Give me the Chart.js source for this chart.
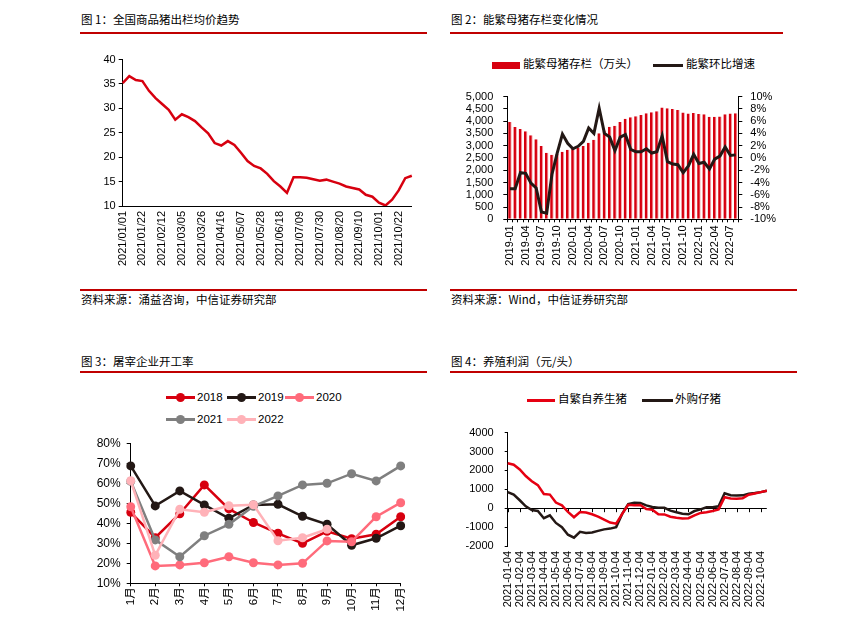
<!DOCTYPE html>
<html>
<head>
<meta charset="utf-8">
<script src="https://cdn.jsdelivr.net/npm/chart.js@4.4.0/dist/chart.umd.min.js"></script>
<style>
  body { margin: 0; background: #fff; width: 849px; height: 622px; position: relative; overflow: hidden;
         font-family: "Liberation Sans", Arial, "Noto Sans CJK SC", sans-serif; }
  .txt { position: absolute; white-space: nowrap; line-height: 1; color: #000; font-family: "Noto Sans CJK SC", sans-serif; font-size: 11.5px; }
  .rule { position: absolute; height: 2px; background: #c00000; }
  .box { position: absolute; }
  .lg { position: absolute; white-space: nowrap; line-height: 1; color: #000; font-size: 11.5px;
        font-family: "Liberation Sans", Arial, "Noto Sans CJK SC", sans-serif; }
  .mk { position: absolute; }
</style>
</head>
<body>

<!-- headers and sources -->
<div class="txt" style="left:81px;top:14px">图 1：全国商品猪出栏均价趋势</div>
<div class="rule" style="left:80px;top:32px;width:347px"></div>
<div class="txt" style="left:451px;top:14px">图 2：能繁母猪存栏变化情况</div>
<div class="rule" style="left:450px;top:32px;width:333px"></div>

<div class="rule" style="left:80px;top:289px;width:347px"></div>
<div class="txt" style="left:81px;top:294px">资料来源：涌益咨询，中信证券研究部</div>
<div class="rule" style="left:450px;top:289px;width:347px"></div>
<div class="txt" style="left:451px;top:294px">资料来源：Wind，中信证券研究部</div>

<div class="txt" style="left:81px;top:356px">图 3：屠宰企业开工率</div>
<div class="rule" style="left:80px;top:371px;width:347px"></div>
<div class="txt" style="left:451px;top:356px">图 4：养殖利润（元/头）</div>
<div class="rule" style="left:450px;top:371px;width:347px"></div>

<!-- legends -->
<div class="mk" style="left:492px;top:62px;width:28px;height:7px;background:#d7000f"></div>
<div class="lg" style="left:523px;top:59px">能繁母猪存栏（万头）</div>
<div class="mk" style="left:653px;top:64px;width:30px;height:3px;background:#231815"></div>
<div class="lg" style="left:686px;top:59px">能繁环比增速</div>

<div id="lg3"></div>

<div class="mk" style="left:527px;top:399px;width:28px;height:3px;background:#e60012"></div>
<div class="lg" style="left:558px;top:394px">自繁自养生猪</div>
<div class="mk" style="left:642px;top:399px;width:31px;height:3px;background:#231815"></div>
<div class="lg" style="left:675px;top:394px">外购仔猪</div>

<!-- charts -->
<div class="box" style="left:80px;top:50px;width:350px;height:230px"><canvas id="c1" width="350" height="230"></canvas></div>
<div class="box" style="left:450px;top:80px;width:335px;height:200px"><canvas id="c2" width="335" height="200"></canvas></div>
<div class="box" style="left:80px;top:430px;width:340px;height:190px"><canvas id="c3" width="340" height="190"></canvas></div>
<div class="box" style="left:440px;top:415px;width:345px;height:205px"><canvas id="c4" width="345" height="205"></canvas></div>

<script>
// ---- chart 1: weekly average price (元/kg)
const priceDates = [
  '2021/01/01','2021/01/08','2021/01/15','2021/01/22','2021/01/29','2021/02/05','2021/02/12','2021/02/19','2021/02/26',
  '2021/03/05','2021/03/12','2021/03/19','2021/03/26','2021/04/02','2021/04/09','2021/04/16','2021/04/23','2021/04/30',
  '2021/05/07','2021/05/14','2021/05/21','2021/05/28','2021/06/04','2021/06/11','2021/06/18','2021/06/25','2021/07/02',
  '2021/07/09','2021/07/16','2021/07/23','2021/07/30','2021/08/06','2021/08/13','2021/08/20','2021/08/27','2021/09/03',
  '2021/09/10','2021/09/17','2021/09/24','2021/10/01','2021/10/08','2021/10/15','2021/10/22','2021/10/29','2021/11/05'
];
const priceValues = [
  35.2, 36.6, 35.8, 35.6, 33.6, 32.1, 30.9, 29.7, 27.7,
  28.8, 28.2, 27.4, 26.1, 24.9, 22.9, 22.4, 23.3, 22.5,
  20.9, 19.2, 18.2, 17.7, 16.6, 15.1, 14.0, 12.7, 15.9,
  15.9, 15.8, 15.5, 15.2, 15.4, 15.0, 14.6, 14.0, 13.7,
  13.4, 12.3, 11.9, 10.7, 10.1, 11.3, 13.2, 15.7, 16.2
];

// ---- chart 2: sow inventory (万头) and MoM change (%)
const sowMonths = [
  '2019-01','2019-02','2019-03','2019-04','2019-05','2019-06','2019-07','2019-08','2019-09','2019-10','2019-11','2019-12',
  '2020-01','2020-02','2020-03','2020-04','2020-05','2020-06','2020-07','2020-08','2020-09','2020-10','2020-11','2020-12',
  '2021-01','2021-02','2021-03','2021-04','2021-05','2021-06','2021-07','2021-08','2021-09','2021-10','2021-11','2021-12',
  '2022-01','2022-02','2022-03','2022-04','2022-05','2022-06','2022-07','2022-08'
];
const sowStock = [
  3970, 3760, 3680, 3590, 3430, 3260, 2990, 2710, 2630, 2660, 2750, 2830,
  2870, 2930, 2990, 3120, 3240, 3510, 3620, 3770, 3810, 3960, 4100, 4160,
  4200, 4255, 4320, 4360, 4400, 4560, 4530, 4490, 4450, 4350, 4310, 4330,
  4295, 4280, 4180, 4180, 4190, 4280, 4310, 4320
];
const sowChange = [
  -5.0, -5.0, -2.4, -2.5, -4.1, -4.9, -8.8, -9.0, -2.7, 0.8, 3.9, 2.4,
  1.5, 1.9, 2.7, 4.9, 4.0, 8.1, 4.0, 3.4, 1.2, 3.4, 3.8, 1.4,
  1.0, 1.0, 1.5, 0.8, 1.0, 3.6, -0.6, -1.0, -1.1, -2.4, -1.3, 0.6,
  -0.9, -0.7, -1.8, -0.2, 0.3, 1.8, 0.4, 0.5
];

// ---- chart 3: slaughter plant operating rate (%)
const rateMonths = ['1月','2月','3月','4月','5月','6月','7月','8月','9月','10月','11月','12月'];
const rate2018 = [45.5, 32.8, 44.8, 59.2, 47.2, 40.4, 35.0, 30.0, 36.0, 32.3, 34.5, 43.3];
const rate2019 = [68.7, 48.7, 56.2, 49.2, 42.5, 49.2, 49.5, 43.5, 39.5, 29.0, 32.5, 38.8];
const rate2020 = [48.3, 18.7, 19.2, 20.3, 23.3, 20.3, 19.2, 20.0, 31.2, 30.8, 43.3, 50.3];
const rate2021 = [61.0, 31.7, 23.3, 33.8, 39.5, 48.5, 53.7, 59.2, 60.0, 64.8, 61.2, 68.7];
const rate2022 = [61.3, 24.0, 47.0, 45.5, 48.8, 49.3, 31.3, 32.8, 37.0];

// ---- chart 4: breeding profit (元/头)
const profitDates = [
  '2021-01-04','2021-01-19','2021-02-04','2021-02-19','2021-03-04','2021-03-19','2021-04-04','2021-04-19',
  '2021-05-04','2021-05-19','2021-06-04','2021-06-19','2021-07-04','2021-07-19','2021-08-04','2021-08-19',
  '2021-09-04','2021-09-19','2021-10-04','2021-10-19','2021-11-04','2021-11-19','2021-12-04','2021-12-19',
  '2022-01-04','2022-01-19','2022-02-04','2022-02-19','2022-03-04','2022-03-19','2022-04-04','2022-04-19',
  '2022-05-04','2022-05-19','2022-06-04','2022-06-19','2022-07-04','2022-07-19','2022-08-04','2022-08-19',
  '2022-09-04','2022-09-19','2022-10-04','2022-10-19'
];
const profitSelfBred = [
  2380, 2300, 2050, 1700, 1430, 1220, 750, 720,
  300, 150, -200, -480, -200, -230, -320, -450,
  -600, -760, -820, -300, 180, 150, 170, -40,
  -80, -320, -330, -450, -510, -550, -530, -380,
  -250, -210, -150, -60, 580, 510, 500, 530,
  710, 780, 850, 920
];
const profitPiglet = [
  850, 720, 420, 100, -100, -150, -530, -380,
  -780, -1000, -1400, -1560, -1250, -1310, -1280, -1200,
  -1120, -1080, -1000, -300, 220, 290, 280, 150,
  60, 20, 20, -130, -210, -290, -320, -150,
  -60, 50, 50, 100, 790, 690, 670, 680,
  770, 800, 850, 920
];

const rateSeries = [
  { name: '2018', data: rate2018, color: '#d7000f' },
  { name: '2019', data: rate2019, color: '#231815' },
  { name: '2020', data: rate2020, color: '#ff6b7b' },
  { name: '2021', data: rate2021, color: '#7f7f7f' },
  { name: '2022', data: rate2022, color: '#ffb2b8' },
];

const FONT = { family: '"Liberation Sans", Arial, "Noto Sans CJK SC", sans-serif', size: 11 };
const base = {
  responsive: false,
  animation: false,
  events: [],
  plugins: { legend: { display: false }, tooltip: { enabled: false } },
};

// html legend for chart 3
const legendSpots = [[166, 391], [227, 391], [285, 391], [166, 413], [227, 413]];
document.getElementById('lg3').innerHTML = rateSeries.map((s, i) => {
  const [x, y] = legendSpots[i];
  return `<div class="mk" style="left:${x}px;top:${y + 5}px;width:29px;height:2.5px;background:${s.color}"></div>
    <div class="mk" style="left:${x + 10}px;top:${y + 2}px;width:9px;height:9px;border-radius:50%;background:${s.color}"></div>
    <div class="lg" style="left:${x + 31}px;top:${y + 1}px">${s.name}</div>`;
}).join('');

// chart 1
new Chart(document.getElementById('c1'), {
  type: 'line',
  data: { labels: priceDates, datasets: [{ data: priceValues, borderColor: '#d7000f', borderWidth: 2.5, pointRadius: 0, tension: 0 }] },
  options: {
    ...base,
    layout: { padding: { top: 7.3, right: 5.7, left: 0, bottom: 0 } },
    scales: {
      x: {
        grid: { display: true, drawOnChartArea: false, drawTicks: false },
        border: { color: '#000' },
        ticks: { autoSkip: false, minRotation: 90, maxRotation: 90, padding: 5, font: FONT, color: '#000',
                 callback: (v, i) => (i % 3 === 0 ? priceDates[i] : '') },
        afterFit: s => { s.height = 74; },
      },
      y: {
        min: 10, max: 40,
        ticks: { stepSize: 5, autoSkip: false, padding: 3, font: FONT, color: '#000' },
        grid: { drawOnChartArea: false, tickLength: 4, color: '#000' },
        border: { color: '#000' },
        afterFit: s => { s.width = 42.7; },
      },
    },
  },
});

// chart 2
new Chart(document.getElementById('c2'), {
  data: {
    labels: sowMonths,
    datasets: [
      { type: 'line', data: sowChange, yAxisID: 'y2', borderColor: '#231815', borderWidth: 3, pointRadius: 0, order: 0 },
      { type: 'bar', data: sowStock, yAxisID: 'y', backgroundColor: '#d7000f', borderColor: '#f5a6ad',
        borderWidth: { right: 1, left: 0, top: 0, bottom: 0 }, barPercentage: 0.68, categoryPercentage: 1, order: 1 },
    ],
  },
  options: {
    ...base,
    layout: { padding: { top: 12.3, right: 0, left: 0, bottom: 0 } },
    scales: {
      x: {
        offset: true,
        grid: { offset: true, drawOnChartArea: false, tickLength: 3, color: '#000' },
        border: { color: '#000' },
        ticks: { autoSkip: false, minRotation: 90, maxRotation: 90, padding: 3, font: FONT, color: '#000',
                 callback: (v, i) => (i % 3 === 0 ? sowMonths[i] : '') },
        afterFit: s => { s.height = 60.7; },
      },
      y: {
        position: 'left', min: 0, max: 5000,
        ticks: { stepSize: 500, autoSkip: false, padding: 10, font: FONT, color: '#000', callback: v => v.toLocaleString('en-US') },
        grid: { drawOnChartArea: false, tickLength: 4, color: '#000' },
        border: { color: '#000' },
        afterFit: s => { s.width = 57.3; },
      },
      y2: {
        position: 'right', min: -10, max: 10,
        ticks: { stepSize: 2, autoSkip: false, padding: 8, font: FONT, color: '#000', callback: v => v + '%' },
        grid: { drawOnChartArea: false, tickLength: 4, color: '#000' },
        border: { color: '#000' },
        afterFit: s => { s.width = 46.7; },
      },
    },
  },
});

// chart 3
new Chart(document.getElementById('c3'), {
  type: 'line',
  data: {
    labels: rateMonths,
    datasets: rateSeries.map((s, i) => ({
      data: s.data, borderColor: s.color, backgroundColor: s.color, borderWidth: 2.5,
      pointRadius: 4.5, pointBorderWidth: 0, tension: 0, order: 5 - i,
    })),
  },
  options: {
    ...base,
    layout: { padding: { top: 13.3, right: 19.3, left: 0, bottom: 0 } },
    scales: {
      x: {
        offset: false,
        grid: { drawOnChartArea: false, tickLength: 3, color: '#000' },
        border: { color: '#000' },
        ticks: { autoSkip: false, minRotation: 90, maxRotation: 90, padding: 1, font: { ...FONT, size: 11.5 }, color: '#000' },
        afterFit: s => { s.height = 36.7; },
      },
      y: {
        min: 10, max: 80,
        ticks: { stepSize: 10, autoSkip: false, padding: 6, font: { ...FONT, size: 12 }, color: '#000', callback: v => v + '%' },
        grid: { drawOnChartArea: false, tickLength: 4, color: '#000' },
        border: { color: '#000' },
        afterFit: s => { s.width = 50.7; },
      },
    },
  },
});

// chart 4: small ticks hanging under the zero line
const zeroTicks = {
  id: 'zeroTicks',
  beforeDatasetsDraw(chart) {
    const { ctx, scales: { x, y } } = chart;
    const y0 = y.getPixelForValue(0);
    ctx.save();
    ctx.strokeStyle = '#000';
    ctx.lineWidth = 1;
    profitDates.forEach((d, i) => {
      if (!d.endsWith('-04')) return;
      const px = Math.round(x.getPixelForValue(i)) + 0.5;
      ctx.beginPath();
      ctx.moveTo(px, y0);
      ctx.lineTo(px, y0 + 4);
      ctx.stroke();
    });
    ctx.restore();
  },
};

new Chart(document.getElementById('c4'), {
  type: 'line',
  data: {
    labels: profitDates,
    datasets: [
      { data: profitPiglet, borderColor: '#231815', borderWidth: 2.5, pointRadius: 0, tension: 0, order: 1 },
      { data: profitSelfBred, borderColor: '#e60012', borderWidth: 2.5, pointRadius: 0, tension: 0, order: 0 },
    ],
  },
  plugins: [zeroTicks],
  options: {
    ...base,
    layout: { padding: { top: 11, right: 15, left: 0, bottom: 0 } },
    scales: {
      x: {
        offset: false,
        grid: { display: false, drawTicks: false },
        border: { display: false },
        ticks: { autoSkip: false, minRotation: 90, maxRotation: 90, padding: 5, font: FONT, color: '#000',
                 callback: (v, i) => (profitDates[i].endsWith('-04') ? profitDates[i] : '') },
        afterFit: s => { s.height = 74; },
      },
      y: {
        min: -2000, max: 4000,
        ticks: { stepSize: 1000, autoSkip: false, padding: 11, font: FONT, color: '#000', callback: v => String(v) },
        grid: { drawOnChartArea: true, tickLength: 3, tickColor: '#000',
                color: c => (c.tick && c.tick.value === 0 ? '#000' : 'rgba(0,0,0,0)') },
        border: { color: '#000' },
        afterFit: s => { s.width = 67.7; },
      },
    },
  },
});
</script>
</body>
</html>
